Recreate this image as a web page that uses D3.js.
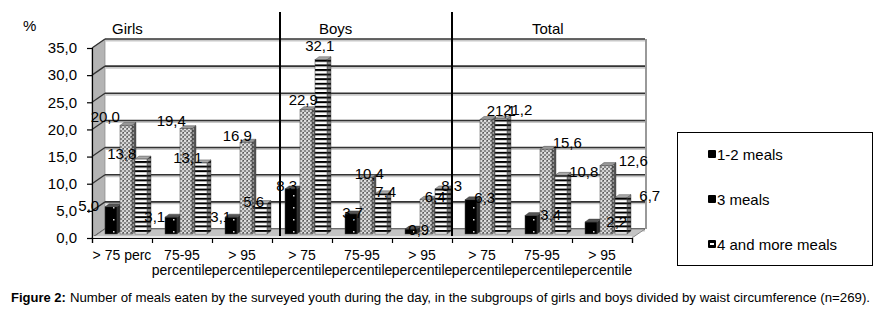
<!DOCTYPE html>
<html><head><meta charset="utf-8">
<script src="https://cdn.jsdelivr.net/npm/d3@7/dist/d3.min.js"></script>
<style>
html,body{margin:0;padding:0;background:#fff;}
svg text{font-family:"Liberation Sans",Arial,sans-serif;fill:#000;}
</style></head>
<body><svg id="c" width="884" height="317"></svg>
<script>
// ---- data ----
const categories = ["g75","g7595","g95","b75","b7595","b95","t75","t7595","t95"];
const catLine1 = ["> 75 perc","75-95","> 95","> 75","75-95","> 95","> 75","75-95","> 95"];
const catLine2 = ["","percentile","percentile","percentile","percentile","percentile","percentile","percentile","percentile"];
const seriesNames = ["1-2 meals","3 meals","4 and more meals"];
const meals12 = [5.0,3.1,3.1,8.3,3.7,0.9,6.3,3.4,2.2];
const meals3  = [20.0,19.4,16.9,22.9,10.4,6.4,21.1,15.6,12.6];
const meals4  = [13.8,13.1,5.6,32.1,7.4,8.3,21.2,10.8,6.7];
const groupNames = ["Girls","Boys","Total"];
const yTicks = [0,5,10,15,20,25,30,35];
const yUnit = "%";
const caption = "Number of meals eaten by the surveyed youth during the day, in the subgroups of girls and boys divided by waist circumference (n=269).";
const captionLead = "Figure 2:";

const seriesValues = [meals12, meals3, meals4];
const svg = d3.select("#c");
const fmt = d => d.toFixed(1).replace(".", ",");

// ---- geometry ----
const X0 = 92, X1 = 632;
const DX = 13, DY = -9;          // wall depth
const yF = d3.scaleLinear().domain([0,35]).range([238,48]);
const x = d3.scaleBand().domain(categories).range([X0,X1]);
const xs = d3.scaleBand().domain(seriesNames).range([13,58]);
const xb = d3.scaleLinear().domain([0,categories.length]).range([X0,X1]);
const yLab = d3.scaleLinear().domain([0,35]).range([235,28.5]);

// ---- patterns ----
const defs = svg.append("defs");
function pat(id,w,h,bg,draw){
  const p = defs.append("pattern").attr("id",id).attr("patternUnits","userSpaceOnUse").attr("width",w).attr("height",h);
  p.append("rect").attr("width",w).attr("height",h).attr("fill",bg);
  draw(p);
}
pat("pBlack",12,12,"#000",p=>{p.append("rect").attr("x",5).attr("y",3).attr("width",1.5).attr("height",1.5).attr("fill","#ddd");});
pat("pBlackSide",4,4,"#2a2a2a",p=>{});
pat("pCheck",4,4,"#8a8a8a",p=>{
  p.append("rect").attr("x",0).attr("y",0).attr("width",2).attr("height",2).attr("fill","#e0e0e0");
  p.append("rect").attr("x",2).attr("y",2).attr("width",2).attr("height",2).attr("fill","#d0d0d0");
  p.append("rect").attr("x",3).attr("y",0).attr("width",1).attr("height",1).attr("fill","#555");});
pat("pCheckSide",4,4,"#555",p=>{
  p.append("rect").attr("x",0).attr("y",0).attr("width",2).attr("height",2).attr("fill","#999");});
pat("pStripe",5,4.6,"#fff",p=>{p.append("rect").attr("x",0).attr("y",0).attr("width",5).attr("height",2).attr("fill","#000");});
pat("pStripeSide",5,4.6,"#888",p=>{p.append("rect").attr("x",0).attr("y",0).attr("width",5).attr("height",2).attr("fill","#111");});
const fronts = ["url(#pBlack)","url(#pCheck)","url(#pStripe)"];
const sides = ["url(#pBlackSide)","url(#pCheckSide)","url(#pStripeSide)"];
const tops = ["#555","#999","#aaa"];

// ---- walls ----
const g = svg.append("g");
g.append("rect").attr("x",X0+DX).attr("y",yF(35)+DY).attr("width",X1-X0).attr("height",yF(0)-yF(35)).attr("fill","#fff");
g.append("path").attr("d",`M${X0},${yF(35)} L${X0+DX},${yF(35)+DY} L${X0+DX},${yF(0)+DY} L${X0},${yF(0)} Z`).attr("fill","#b4b4b4").attr("stroke","#888").attr("stroke-width",0.7);
yTicks.forEach(t=>{
  const yb = yF(t)+DY;
  g.append("line").attr("x1",X0+DX).attr("x2",X1+DX).attr("y1",yb+1.5).attr("y2",yb+1.5).attr("stroke","#c8c8c8").attr("stroke-width",2);
  g.append("line").attr("x1",X0+DX).attr("x2",X1+DX).attr("y1",yb).attr("y2",yb).attr("stroke","#333").attr("stroke-width",1.6);
  g.append("line").attr("x1",X0).attr("x2",X0+DX).attr("y1",yF(t)).attr("y2",yb).attr("stroke","#333").attr("stroke-width",1.3);
});
g.append("line").attr("x1",X1+DX+1).attr("x2",X1+DX+1).attr("y1",yF(35)+DY).attr("y2",yF(0)+DY).attr("stroke","#999").attr("stroke-width",2);
g.append("path").attr("d",`M${X0},${yF(0)} L${X0+DX},${yF(0)+DY} L${X1+DX},${yF(0)+DY} L${X1},${yF(0)} Z`).attr("fill","#c4c4c4").attr("stroke","#777").attr("stroke-width",0.8);
g.append("rect").attr("x",X0).attr("y",yF(0)-2).attr("width",X1-X0).attr("height",2).attr("fill","#e6e6e6");

// ---- bars ----
const BW = 12, BD = 4, BDY = -3;
const bars = g.append("g");
categories.forEach((c,i)=>{
  seriesNames.forEach((s,j)=>{
    const v = seriesValues[j][i];
    const x0 = x(c)+xs(s), x1 = x0+BW;
    const yb = yF(0)-4, yt = yF(v)-4;
    bars.append("path").attr("d",`M${x1},${yb} L${x1+BD},${yb+BDY} L${x1+BD},${yt+BDY} L${x1},${yt} Z`).attr("fill",sides[j]).attr("stroke","#333").attr("stroke-width",0.4);
    bars.append("path").attr("d",`M${x0},${yt} L${x0+BD},${yt+BDY} L${x1+BD},${yt+BDY} L${x1},${yt} Z`).attr("fill",tops[j]).attr("stroke","#333").attr("stroke-width",0.4);
    bars.append("rect").attr("x",x0).attr("y",yt).attr("width",BW).attr("height",yb-yt).attr("fill",fronts[j]).attr("stroke","#444").attr("stroke-width",0.5);
  });
});

// ---- axes ----
const ya = svg.append("g").attr("transform",`translate(${X0},0)`)
  .call(d3.axisLeft(yF).tickValues(yTicks).tickFormat(fmt).tickSize(5).tickPadding(10));
ya.select(".domain").attr("stroke","#000").attr("stroke-width",1.2);
ya.selectAll(".tick line").attr("stroke","#000").attr("stroke-width",1.2);
ya.selectAll("text").style("font-size","15px").attr("fill","#000");
const xa = svg.append("g").attr("transform",`translate(0,${yF(0)})`)
  .call(d3.axisBottom(xb).tickValues(d3.range(categories.length+1)).tickFormat("").tickSize(5));
xa.select(".domain").attr("stroke","#000").attr("stroke-width",1.2);
xa.selectAll(".tick line").attr("stroke","#000").attr("stroke-width",1.2);

// category labels
const cl = svg.append("g");
categories.forEach((c,i)=>{
  const cx = x(c)+x.bandwidth()/2;
  cl.append("text").attr("x",cx).attr("y",260).attr("text-anchor","middle").style("font-size","14px").text(catLine1[i]);
  if (catLine2[i]) cl.append("text").attr("x",cx).attr("y",275).attr("text-anchor","middle").style("font-size","14px").text(catLine2[i]);
});

// value labels (perspective-like horizontal drift as in the original 3D chart)
const vl = svg.append("g");
categories.forEach((c,i)=>{
  seriesNames.forEach((s,j)=>{
    const v = seriesValues[j][i];
    const bc = x(c)+xs(s)+BW/2+2;
    const lx = bc + 0.1*(bc-355);
    vl.append("text").attr("x",lx).attr("y",yLab(v)).attr("dy","0.35em").attr("text-anchor","middle").style("font-size","15px").text(fmt(v));
  });
});

// separators and group titles
[280,452].forEach(sx=>{
  svg.append("line").attr("x1",sx).attr("x2",sx).attr("y1",12).attr("y2",236).attr("stroke","#000").attr("stroke-width",2);
});
const titleX = [112,319,532];
groupNames.forEach((n,i)=>svg.append("text").attr("x",titleX[i]).attr("y",34).style("font-size","15px").text(n));
svg.append("text").attr("x",23).attr("y",31).style("font-size","15px").text(yUnit);

// legend
const lg = svg.append("g");
lg.append("rect").attr("x",677.5).attr("y",132.5).attr("width",195).attr("height",133).attr("fill","#fff").attr("stroke","#000").attr("stroke-width",1);
const legY = [160,205,250];
seriesNames.forEach((s,j)=>{
  lg.append("rect").attr("x",708).attr("y",legY[j]-10).attr("width",8).attr("height",8).attr("fill","#000").attr("rx",1);
  if (j===2) lg.append("rect").attr("x",710).attr("y",legY[j]-7).attr("width",4).attr("height",2).attr("fill","#fff");
  lg.append("text").attr("x",717).attr("y",legY[j]).style("font-size","15px").text(s);
});

// caption
const lead = svg.append("text").attr("x",11).attr("y",302).style("font-size","13px").style("font-weight","bold").attr("fill","#111").text(captionLead);
const lw = lead.node().getComputedTextLength();
const capX = 11 + lw + 4;
svg.append("text").attr("x",capX).attr("y",302).style("font-size","13px").attr("fill","#111")
  .attr("textLength",870-capX).attr("lengthAdjust","spacingAndGlyphs").text(caption);
</script></body></html>
